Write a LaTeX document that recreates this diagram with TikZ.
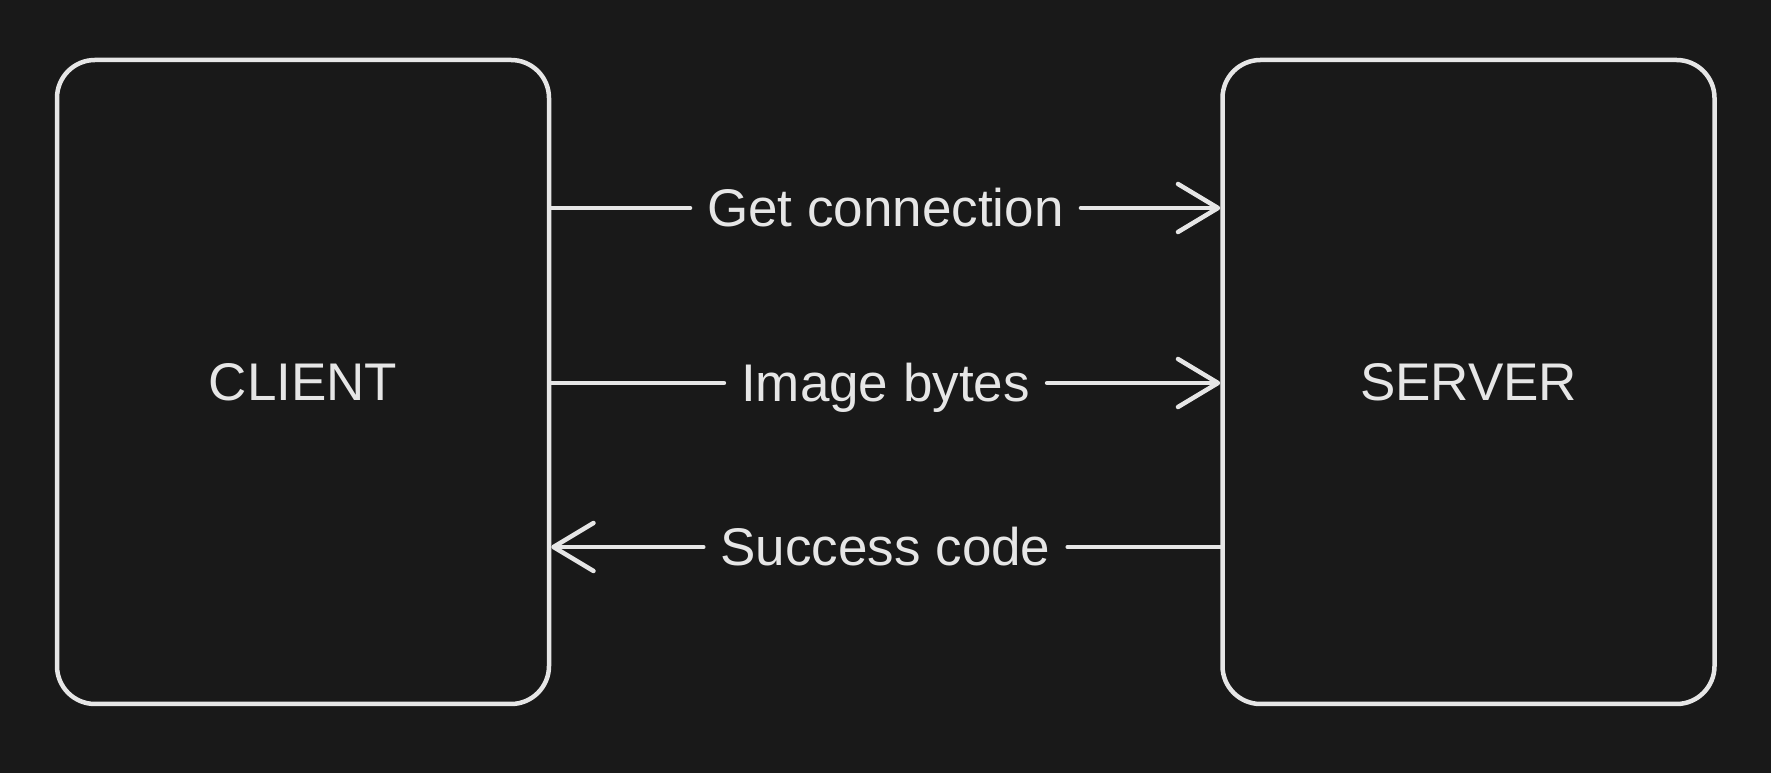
\documentclass[tikz,border=0pt]{standalone}
\usepackage{fontspec}
\setmainfont{Liberation Sans}
\usetikzlibrary{arrows.meta}
\definecolor{bg}{HTML}{191919}
\definecolor{ink}{HTML}{E6E6E6}
\begin{document}
\begin{tikzpicture}[x=1pt,y=1pt,
  box/.style={draw=ink, line width=4.5pt, rounded corners=38pt, minimum width=492pt, minimum height=644pt, inner sep=0pt},
  lbl/.style={text=ink, font=\fontsize{53}{60}\selectfont, inner sep=0pt, text height=38pt, text depth=0pt},
  conn/.style={draw=ink, line width=4.5pt, line cap=round},
  tip/.style={-{Straight Barb[round,length=40pt,width=48pt,line width=4.5pt]}}
]
\fill[bg] (0,0) rectangle (1771,773);
\useasboundingbox (0,0) rectangle (1771,773);
\node[box] (client) at (303,391) {};
\node[box] (server) at (1468.5,391) {};
\node[lbl] at (client.center) {CLIENT};
\node[lbl] at (server.center) {SERVER};
% labels
\node[lbl] (l1) at (885.5,565) {Get connection};
\node[lbl] (l2) at (885.5,390) {Image bytes};
\node[lbl] (l3) at (885.5,226) {Success code};
\coordinate (c1) at (client.east |- l1);
\coordinate (c2) at (client.east |- l2);
\coordinate (c3) at (client.east |- l3);
\coordinate (s1) at (server.west |- l1);
\coordinate (s2) at (server.west |- l2);
\coordinate (s3) at (server.west |- l3);
\draw[conn] (c1) -- ([xshift=-17pt]l1.west);
\draw[conn,tip] ([xshift=17pt]l1.east) -- (s1);
\draw[conn] (c2) -- ([xshift=-17pt]l2.west);
\draw[conn,tip] ([xshift=17pt]l2.east) -- (s2);
\draw[conn] (s3) -- ([xshift=17pt]l3.east);
\draw[conn,tip] ([xshift=-17pt]l3.west) -- (c3);
\end{tikzpicture}
\end{document}
